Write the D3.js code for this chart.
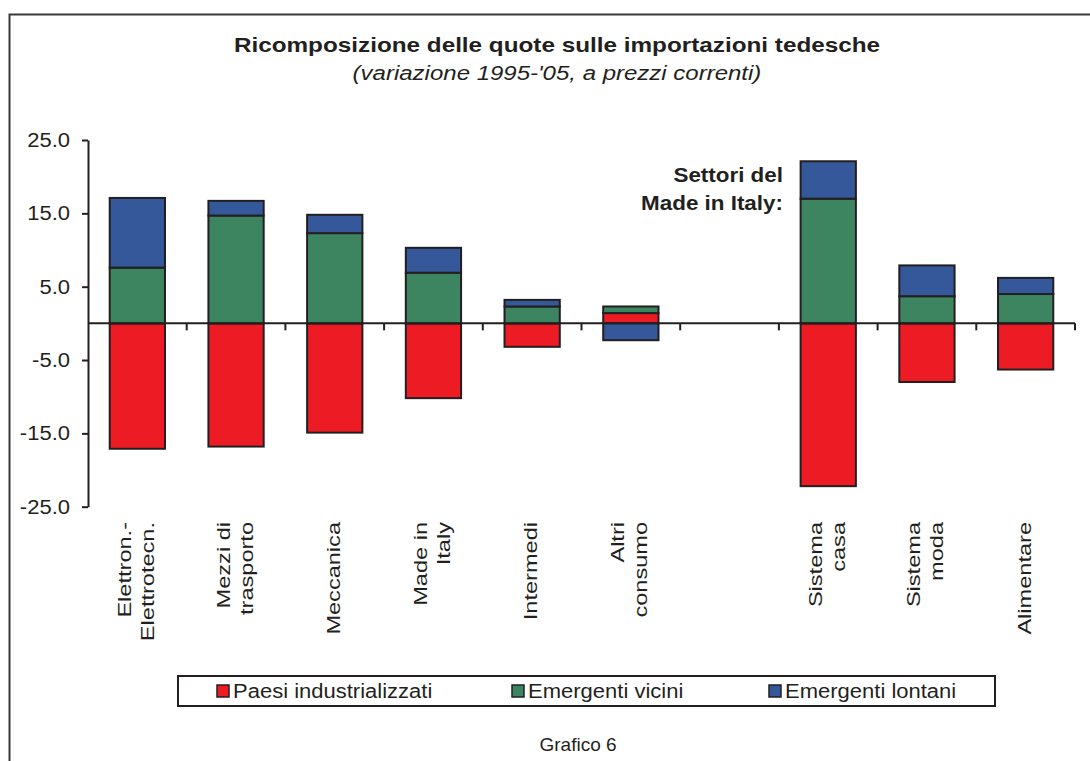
<!DOCTYPE html>
<html>
<head>
<meta charset="utf-8">
<script src="https://cdn.jsdelivr.net/npm/d3@7"></script>
<style>
  html, body { margin: 0; padding: 0; background: #fff; }
  svg { display: block; font-family: "Liberation Sans", Arial, Helvetica, sans-serif; }
</style>
</head>
<body>
<svg id="chart" width="1090" height="761"></svg>
<script>
// Sector categories (an empty slot separates the Made in Italy sectors)
const categories = [
  ["Elettron.-", "Elettrotecn."],
  ["Mezzi di", "trasporto"],
  ["Meccanica"],
  ["Made in", "Italy"],
  ["Intermedi"],
  ["Altri", "consumo"],
  [],
  ["Sistema", "casa"],
  ["Sistema", "moda"],
  ["Alimentare"]
];

// Change in import shares 1995-'05 by area of origin
const paesiIndustrializzati = [-17.1, -16.8, -14.9, -10.2, -3.2, 1.4, null, -22.2, -8.0, -6.3];
const emergentiVicini       = [  7.6,  14.7,  12.3,   6.9,  2.3, 0.9, null,  17.0,  3.7,  4.0];
const emergentiLontani      = [  9.5,   2.0,   2.5,   3.4,  0.9, -2.3, null,  5.1,  4.2,  2.2];

const seriesNames = ["Paesi industrializzati", "Emergenti vicini", "Emergenti lontani"];
const seriesColors = ["#ed1c24", "#3d8460", "#34589a"];
const yTicks = [25, 15, 5, -5, -15, -25];

const svg = d3.select("#chart");
const W = 1090, H = 761;
const ink = "#231f20";

// widen a text element's run by a factor (the typeface is set wide)
function widen(sel, factor) {
  sel.each(function() {
    const len = this.getComputedTextLength();
    d3.select(this).attr("textLength", len * factor).attr("lengthAdjust", "spacingAndGlyphs");
  });
  return sel;
}

// outer frame
svg.append("rect")
  .attr("x", 9.5).attr("y", 14.5)
  .attr("width", W + 20).attr("height", H + 20)
  .attr("fill", "none").attr("stroke", "#3a3a3a").attr("stroke-width", 2);

// titles
widen(svg.append("text")
  .attr("x", 557).attr("y", 52)
  .attr("text-anchor", "middle")
  .attr("font-size", 21).attr("font-weight", "bold").attr("fill", ink)
  .text("Ricomposizione delle quote sulle importazioni tedesche"), 1.156);
widen(svg.append("text")
  .attr("x", 557).attr("y", 80)
  .attr("text-anchor", "middle")
  .attr("font-size", 20).attr("font-style", "italic").attr("fill", ink)
  .text("(variazione 1995-'05, a prezzi correnti)"), 1.2);

// scales
const idx = d3.range(categories.length);
const x = d3.scaleBand().domain(idx).range([88, 1075]).paddingInner(0.44).paddingOuter(0.22);
const y = d3.scaleLinear().domain([-25, 25]).range([506.7, 140]);

// stacked table, positives upward and negatives downward
const table = idx.map(i => ({
  i,
  s0: paesiIndustrializzati[i] || 0,
  s1: emergentiVicini[i] || 0,
  s2: emergentiLontani[i] || 0,
  empty: paesiIndustrializzati[i] === null
}));
const stack = d3.stack().keys(["s0", "s1", "s2"]).offset(d3.stackOffsetDiverging);
const stacked = stack(table);

const g = svg.append("g");
stacked.forEach((layer, k) => {
  g.append("g").selectAll("rect")
    .data(layer.filter(d => !d.data.empty && d[1] !== d[0]))
    .join("rect")
    .attr("x", d => x(d.data.i))
    .attr("width", x.bandwidth())
    .attr("y", d => y(Math.max(d[0], d[1])))
    .attr("height", d => Math.abs(y(d[0]) - y(d[1])))
    .attr("fill", seriesColors[k])
    .attr("stroke", ink)
    .attr("stroke-width", 2);
});

// y axis
const fmt = v => v.toFixed(1);
const yAxis = svg.append("g")
  .attr("transform", "translate(88,0)")
  .call(d3.axisLeft(y).tickValues(yTicks).tickFormat(fmt).tickSize(6).tickSizeOuter(0));
yAxis.select(".domain").attr("stroke", ink).attr("stroke-width", 2);
yAxis.selectAll(".tick line").attr("stroke", ink).attr("stroke-width", 2);
widen(yAxis.selectAll(".tick text")
  .attr("x", -18)
  .attr("font-size", 20)
  .attr("font-family", "Liberation Sans, Arial, sans-serif")
  .attr("fill", ink), 1.1);

// zero line with category tick marks
const y0 = y(0);
const step = x.step();
const left0 = x(0) - step * x.paddingInner() / 2;
svg.append("line")
  .attr("x1", 88).attr("x2", 1075)
  .attr("y1", y0).attr("y2", y0)
  .attr("stroke", ink).attr("stroke-width", 2);
svg.append("g").selectAll("line")
  .data(d3.range(1, categories.length + 1))
  .join("line")
  .attr("x1", i => left0 + i * step).attr("x2", i => left0 + i * step)
  .attr("y1", y0).attr("y2", y0 + 7)
  .attr("stroke", ink).attr("stroke-width", 2);

// rotated category labels, one text element per line
const lineH = 23;
const labelRows = [];
idx.forEach(i => {
  const n = categories[i].length;
  categories[i].forEach((t, j) => labelRows.push({ i, t, off: (j - (n - 1) / 2) * lineH }));
});
widen(svg.append("g").selectAll("text")
  .data(labelRows)
  .join("text")
  .attr("transform", d => `translate(${x(d.i) + x.bandwidth() / 2 - 2 + d.off + 7},522) rotate(-90)`)
  .attr("text-anchor", "end")
  .attr("font-size", 19)
  .attr("fill", ink)
  .text(d => d.t), 1.24);

// annotation
const annLines = ["Settori del", "Made in Italy:"];
widen(svg.append("g").selectAll("text")
  .data(annLines)
  .join("text")
  .attr("x", 783).attr("y", (d, j) => 182 + j * 28)
  .attr("text-anchor", "end")
  .attr("font-size", 20).attr("font-weight", "bold").attr("fill", ink)
  .text(d => d), 1.12);

// legend
const leg = svg.append("g");
leg.append("rect")
  .attr("x", 178).attr("y", 676).attr("width", 817).attr("height", 30)
  .attr("fill", "#fff").attr("stroke", ink).attr("stroke-width", 2);
const legX = [217, 512, 769];
seriesNames.forEach((name, k) => {
  leg.append("rect")
    .attr("x", legX[k]).attr("y", 685).attr("width", 12).attr("height", 12)
    .attr("fill", seriesColors[k]).attr("stroke", ink).attr("stroke-width", 1.5);
  widen(leg.append("text")
    .attr("x", legX[k] + 16).attr("y", 698)
    .attr("font-size", 20).attr("fill", ink)
    .text(name), 1.1);
});

// footer
svg.append("text")
  .attr("x", 578).attr("y", 751)
  .attr("text-anchor", "middle")
  .attr("font-size", 19).attr("fill", ink)
  .text("Grafico 6");
</script>
</body>
</html>
